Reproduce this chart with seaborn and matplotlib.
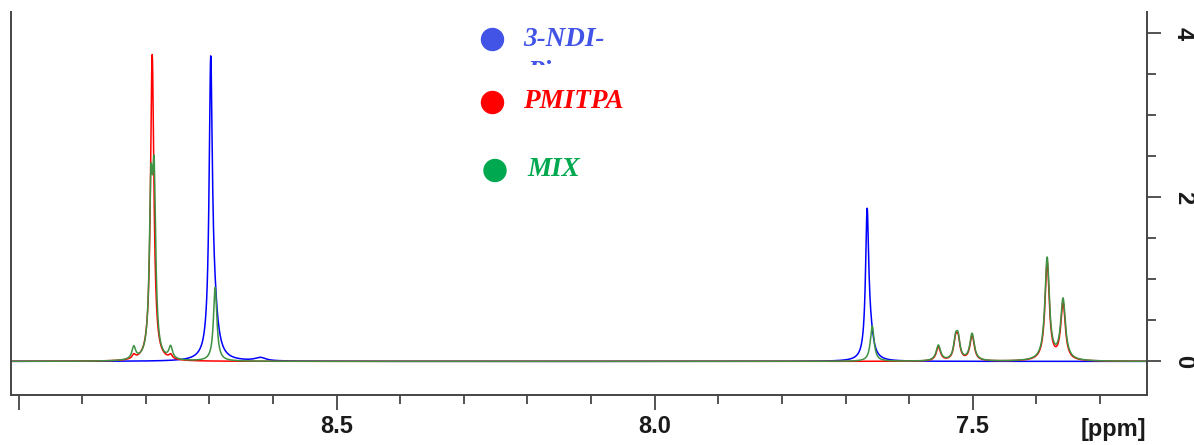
import numpy as np
import pandas as pd
import seaborn as sns
import matplotlib.pyplot as plt
from matplotlib.patches import Ellipse
from matplotlib.ticker import MultipleLocator, FuncFormatter
from matplotlib.transforms import Bbox

# peak tables: shift [ppm], height, half width [ppm]
ndi_shift = [8.698, 8.693, 8.620, 7.666, 7.661]
ndi_height = [3.36, 0.55, 0.04, 1.72, 0.25]
ndi_hw = [0.0030, 0.0070, 0.0100, 0.0030, 0.0060]

pmi_shift = [8.790, 8.819, 8.761, 7.554, 7.527, 7.523, 7.501, 7.383, 7.358]
pmi_height = [3.74, 0.05, 0.05, 0.17, 0.22, 0.23, 0.31, 1.20, 0.70]
pmi_hw = [0.0032, 0.0030, 0.0030, 0.0040, 0.0035, 0.0035, 0.0040, 0.0040, 0.0042]

mix_shift = [8.792, 8.787, 8.819, 8.761, 8.691, 7.658,
             7.554, 7.527, 7.523, 7.501, 7.383, 7.358]
mix_height = [1.85, 2.00, 0.15, 0.15, 0.90, 0.43,
              0.19, 0.23, 0.24, 0.33, 1.25, 0.74]
mix_hw = [0.0030, 0.0030, 0.0035, 0.0035, 0.0032, 0.0035,
          0.0042, 0.0036, 0.0036, 0.0042, 0.0042, 0.0045]

names = ["3-NDI-Pi", "PMITPA", "MIX"]
line_colors = {"3-NDI-Pi": "#0000ff", "PMITPA": "#ff0000", "MIX": "#3f9143"}
dot_colors = ["#4254e6", "#ff0000", "#00a84f"]
label_text = ["3-NDI-", "PMITPA", "MIX"]

ppm_axis = np.arange(9.02, 7.22, -0.0004)


def spectrum(shifts, heights, widths):
    y = np.zeros_like(ppm_axis)
    for s, h, w in zip(shifts, heights, widths):
        y += h / (1 + ((ppm_axis - s) / w) ** 2)
    return y


frames = []
for name, tab in zip(names, [(ndi_shift, ndi_height, ndi_hw),
                             (pmi_shift, pmi_height, pmi_hw),
                             (mix_shift, mix_height, mix_hw)]):
    frames.append(pd.DataFrame({"ppm": ppm_axis, "intensity": spectrum(*tab), "sample": name}))
df = pd.concat(frames, ignore_index=True)

sns.set_style("white")
plt.rcParams["font.family"] = ["Liberation Sans", "DejaVu Sans"]

fig = plt.figure(figsize=(11.94, 4.45), dpi=100)
ax = fig.add_axes([11 / 1194, 50 / 445, 1136 / 1194, 383 / 445])

sns.lineplot(data=df, x="ppm", y="intensity", hue="sample", hue_order=names,
             palette=line_colors, estimator=None, sort=False, lw=1.1,
             legend=False, ax=ax)

ax.set_xlim(9.012, 7.226)
ax.set_ylim(-0.41, 4.26)
ax.set_xlabel("")
ax.set_ylabel("")

for side in ["left", "bottom", "right"]:
    ax.spines[side].set_visible(True)
    ax.spines[side].set_color("#454545")
    ax.spines[side].set_linewidth(1.4)
ax.spines["top"].set_visible(False)

ax.xaxis.set_major_locator(MultipleLocator(0.5))
ax.xaxis.set_minor_locator(MultipleLocator(0.1))
ax.xaxis.set_major_formatter(FuncFormatter(lambda v, p: "" if v > 8.95 else f"{v:.1f}"))
ax.yaxis.tick_right()
ax.yaxis.set_major_locator(MultipleLocator(2))
ax.yaxis.set_minor_locator(MultipleLocator(0.5))

ax.tick_params(axis="x", which="major", direction="out", length=10.5, width=1.3,
               color="#454545", bottom=True, labelsize=17, pad=4, labelcolor="#1a1a1a")
ax.tick_params(axis="x", which="minor", direction="out", length=6.5, width=1.3,
               color="#454545", bottom=True)
ax.tick_params(axis="y", which="major", direction="out", length=10, width=1.3,
               color="#454545", right=True, left=False, labelsize=17, pad=8,
               labelcolor="#1a1a1a", labelrotation=270)
ax.tick_params(axis="y", which="minor", direction="out", length=6.5, width=1.3,
               color="#454545", right=True, left=False)
for t in ax.get_xticklabels() + ax.get_yticklabels():
    t.set_fontweight("bold")
for t in ax.get_yticklabels():
    t.set_verticalalignment("center")

ax.text(7.278, -0.69, "[ppm]", ha="center", va="top", fontsize=17,
        fontweight="bold", color="#1a1a1a", clip_on=False)

# legend drawn as dots and italic labels in figure pixels
dot_y = [39.5, 102.5, 170.5]
dot_x = [492.5, 492.5, 495]
text_x = [523, 523, 527]
text_y = [40, 101, 169]
for cx, cy, c, tx, ty, lab in zip(dot_x, dot_y, dot_colors, text_x, text_y, label_text):
    fig.add_artist(Ellipse((cx / 1194, 1 - cy / 445), 22 / 1194, 22 / 445,
                           transform=fig.transFigure, color=c))
    fig.text(tx / 1194, 1 - ty / 445, lab, color=c, ha="left", va="center",
             fontsize=19.5, fontweight="bold", fontstyle="italic",
             family=["Liberation Serif", "DejaVu Serif"])

# second line of the first label, cut off by its box
pi = fig.text(527 / 1194, 1 - 60 / 445, "Pi", color=dot_colors[0], ha="left", va="top",
              fontsize=19.5, fontweight="bold", fontstyle="italic",
              family=["Liberation Serif", "DejaVu Serif"])
pi.set_clip_box(Bbox.from_extents(500, 445 - 65, 700, 445))
pi.set_clip_on(True)

fig.savefig("out.png", dpi=100)
